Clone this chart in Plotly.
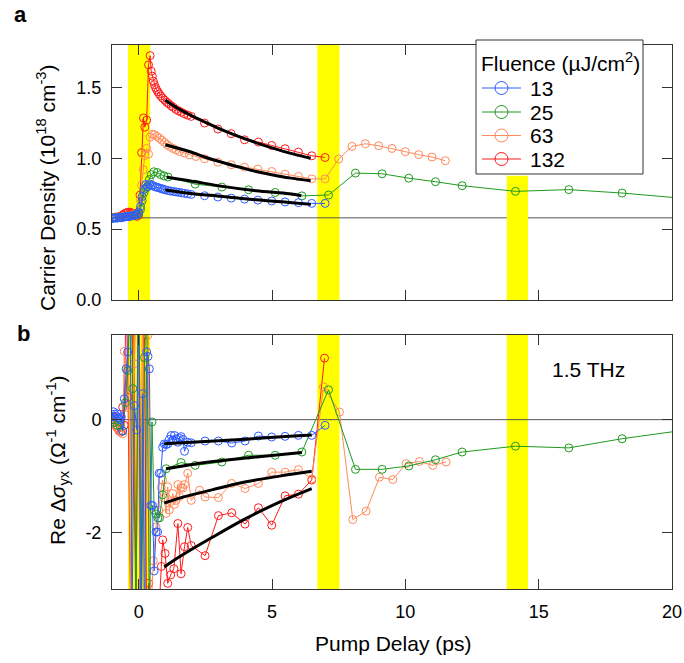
import plotly.graph_objects as go

# ---------------- data ----------------
fluences = ["13", "25", "63", "132"]

# panel a: carrier density (1e18 cm^-3) vs pump delay (ps)
t_a_13 = [-1.0, -0.93, -0.87, -0.8, -0.73, -0.67, -0.6, -0.53, -0.47, -0.4,
          -0.33, -0.27, -0.2, -0.13, -0.07, 0.0, 0.07, 0.13, 0.2, 0.27,
          0.33, 0.4, 0.47, 0.53, 0.6, 0.67, 0.73, 0.8, 0.87, 0.93,
          1.0, 1.1, 1.2, 1.3, 1.4, 1.5, 1.6, 1.72, 1.84, 1.97,
          2.47, 2.97, 3.47, 3.97, 4.47, 4.99, 5.49, 5.99, 6.49, 6.99]
n_a_13 = [0.575, 0.578, 0.58, 0.578, 0.582, 0.58, 0.584, 0.586, 0.588, 0.59,
          0.592, 0.594, 0.596, 0.60, 0.605, 0.62, 0.66, 0.73, 0.78, 0.815,
          0.80, 0.82, 0.81, 0.808, 0.80, 0.797, 0.793, 0.789, 0.785, 0.781,
          0.777, 0.773, 0.769, 0.766, 0.763, 0.760, 0.757, 0.753, 0.749, 0.745,
          0.736, 0.727, 0.719, 0.712, 0.705, 0.699, 0.692, 0.687, 0.682, 0.682]

t_a_25 = [-1.0, -0.87, -0.73, -0.6, -0.47, -0.33, -0.2, -0.07, 0.0, 0.07,
          0.13, 0.2, 0.27, 0.33, 0.4, 0.47, 0.57, 0.7, 0.82, 0.95,
          1.1, 2.12, 3.12, 4.12, 5.12, 6.12, 7.12, 8.13, 9.13, 10.13,
          11.13, 12.13, 14.13, 16.13, 18.13, 20.4]
n_a_25 = [0.58, 0.58, 0.585, 0.585, 0.59, 0.59, 0.595, 0.60, 0.61, 0.64,
          0.70, 0.76, 0.79, 0.80, 0.85, 0.885, 0.905, 0.90, 0.885, 0.876,
          0.868, 0.818, 0.797, 0.778, 0.759, 0.735, 0.741, 0.896, 0.891, 0.86,
          0.835, 0.807, 0.767, 0.779, 0.755, 0.718]

t_a_63 = [-1.0, -0.87, -0.73, -0.6, -0.47, -0.33, -0.2, -0.07, 0.0, 0.07,
          0.11, 0.17, 0.23, 0.3, 0.37, 0.43, 0.5, 0.59, 0.68, 0.78,
          0.87, 0.97, 1.06, 1.15, 1.28, 1.4, 1.53, 1.72, 1.9, 2.15,
          2.47, 2.97, 3.47, 3.97, 4.47, 4.99, 5.49, 5.99, 6.49, 6.99,
          7.5, 8.0, 8.5, 9.0, 9.5, 10.0, 10.5, 11.0, 11.5]
n_a_63 = [0.58, 0.58, 0.585, 0.585, 0.59, 0.59, 0.60, 0.60, 0.62, 0.70,
          0.81, 0.92, 1.02, 1.07, 1.03, 1.15, 1.17, 1.167, 1.155, 1.143,
          1.128, 1.113, 1.098, 1.084, 1.07, 1.06, 1.048, 1.037, 1.025, 1.013,
          0.997, 0.973, 0.955, 0.938, 0.924, 0.907, 0.888, 0.872, 0.855, 0.855,
          0.995, 1.084, 1.103, 1.089, 1.07, 1.047, 1.026, 1.009, 0.983]

t_a_132 = [-1.0, -0.87, -0.73, -0.6, -0.53, -0.47, -0.4, -0.33, -0.27, -0.2,
           -0.13, -0.07, 0.0, 0.05, 0.11, 0.18, 0.23, 0.3, 0.37, 0.43,
           0.47, 0.51, 0.55, 0.59, 0.63, 0.67, 0.72, 0.77, 0.83, 0.9,
           0.98, 1.06, 1.13, 1.22, 1.3, 1.4, 1.5, 1.6, 1.71, 1.84,
           1.97, 2.47, 2.97, 3.47, 3.97, 4.49, 4.99, 5.49, 5.99, 6.49,
           6.99]
n_a_132 = [0.58, 0.585, 0.59, 0.60, 0.61, 0.615, 0.62, 0.62, 0.615, 0.61,
           0.60, 0.59, 0.60, 0.74, 1.04, 1.285, 1.22, 1.27, 1.66, 1.725,
           1.615, 1.58, 1.545, 1.52, 1.50, 1.485, 1.47, 1.455, 1.44, 1.425,
           1.41, 1.395, 1.385, 1.37, 1.36, 1.345, 1.335, 1.325, 1.315, 1.305,
           1.296, 1.249, 1.207, 1.174, 1.131, 1.115, 1.091, 1.068, 1.044, 1.018,
           1.006]

# decay fits, panel a
fit_a_13_t = [1.0, 1.9, 3.15, 4.4, 5.65, 6.46]
fit_a_13_n = [0.777, 0.754, 0.731, 0.707, 0.688, 0.675]
fit_a_25_t = [1.05, 1.9, 3.15, 4.4, 5.65, 6.1]
fit_a_25_n = [0.866, 0.842, 0.802, 0.771, 0.750, 0.736]
fit_a_63_t = [1.0, 1.9, 2.5, 3.15, 3.8, 4.4, 5.0, 5.65, 6.45]
fit_a_63_n = [1.096, 1.048, 1.008, 0.971, 0.937, 0.907, 0.884, 0.862, 0.842]
fit_a_132_t = [1.0, 1.5, 2.0, 2.5, 3.0, 3.5, 4.0, 4.5, 5.0, 5.5, 6.0, 6.45]
fit_a_132_n = [1.41, 1.35, 1.30, 1.255, 1.212, 1.173, 1.137, 1.104, 1.074, 1.046, 1.021, 1.0]

# panel b: Re delta sigma_yx (Ohm^-1 cm^-1) at 1.5 THz
t_b_13 = [-1.0, -0.95, -0.9, -0.85, -0.8, -0.75, -0.7, -0.65, -0.6, -0.54,
          -0.47, -0.41, -0.33, -0.25, -0.16, -0.07, 0.0, 0.07, 0.15, 0.22,
          0.3, 0.35, 0.4, 0.46, 0.52, 0.58, 0.65, 0.71, 0.77, 0.83,
          0.9, 0.96, 1.03, 1.09, 1.15, 1.22, 1.28, 1.34, 1.4, 1.47,
          1.53, 1.59, 1.66, 1.72, 1.84, 1.97, 2.49, 2.99, 3.49, 3.99,
          4.49, 4.99, 5.49, 5.99, 6.49, 6.99]
s_b_13 = [0.05, 0.14, 0.1, 0.06, 0.1, 0.03, 0.0, 0.05, -0.2, 0.37,
          0.9, 1.2, 3.0, -3.5, 0.25, -0.18, 2.5, -4.0, 0.46, -4.0,
          1.2, 1.12, 0.9, -1.52, -1.52, -2.68, -1.99, -1.99, -0.95, -0.95,
          -0.49, -0.43, -0.44, -0.43, -0.35, -0.28, -0.36, -0.28, -0.34, -0.40,
          -0.33, -0.30, -0.35, -0.56, -0.40, -0.41, -0.378, -0.378, -0.414, -0.378,
          -0.29, -0.307, -0.296, -0.278, -0.278, -0.101]

t_b_25 = [-1.0, -0.9, -0.8, -0.7, -0.6, -0.5, -0.41, -0.3, -0.22, -0.1,
          0.0, 0.1, 0.22, 0.3, 0.4, 0.5, 0.58, 0.65, 0.72, 0.78,
          0.9, 1.03, 1.59, 2.12, 3.12, 4.12, 5.12, 6.12, 7.12, 8.13,
          9.13, 10.13, 11.13, 12.13, 14.13, 16.13, 18.13, 20.4]
s_b_25 = [0.0, -0.05, -0.1, -0.1, -0.2, 0.3, 0.87, 2.5, 0.55, -3.5,
          3.0, -3.5, 1.1, 2.0, -3.5, -0.04, -1.6, -1.67, -1.74, -1.74,
          -1.33, -0.87, -0.76, -0.81, -0.75, -0.63, -0.63, -0.573, 0.53, -0.88,
          -0.88, -0.82, -0.71, -0.573, -0.47, -0.50, -0.337, -0.19]

t_b_63 = [-1.0, -0.93, -0.87, -0.8, -0.73, -0.67, -0.6, -0.54, -0.47, -0.4,
          -0.3, -0.16, -0.05, 0.05, 0.15, 0.25, 0.35, 0.45, 0.55, 0.65,
          0.75, 0.85, 0.9, 0.96, 1.03, 1.09, 1.15, 1.22, 1.28, 1.34,
          1.4, 1.47, 1.53, 1.59, 1.66, 1.72, 1.84, 1.97, 2.28, 2.49,
          2.99, 3.49, 3.99, 4.49, 4.99, 5.49, 5.99, 6.49, 6.93, 7.53,
          8.03, 8.53, 9.03, 9.53, 10.03, 10.53, 11.03, 11.53]
s_b_63 = [0.05, -0.05, -0.1, -0.15, -0.2, -0.1, -0.25, 1.21, 0.22, 2.5,
          -3.5, 0.99, 3.0, -3.5, 2.5, -3.5, 1.5, -3.5, -2.5, -1.9,
          -1.6, -1.2, -1.07, -1.39, -1.66, -1.19, -1.6, -1.45, -1.31, -1.5,
          -1.43, -1.15, -1.36, -1.2, -1.21, -1.15, -0.95, -1.43, -1.25, -1.37,
          -1.38, -1.13, -1.22, -1.13, -0.93, -0.93, -0.885, -1.05, 0.58, 0.135,
          -1.77, -1.62, -1.02, -1.06, -0.78, -0.74, -0.81, -0.75]

t_b_132 = [-1.0, -0.93, -0.87, -0.8, -0.73, -0.67, -0.6, -0.54, -0.47, -0.4,
           -0.3, -0.2, -0.1, 0.0, 0.1, 0.2, 0.3, 0.38, 0.45, 0.55,
           0.65, 0.75, 0.85, 0.9, 0.99, 1.09, 1.2, 1.32, 1.47, 1.59,
           1.72, 1.84, 1.97, 2.49, 2.99, 3.49, 3.99, 4.49, 4.99, 5.49,
           5.99, 6.49, 6.97]
s_b_132 = [0.0, 0.05, -0.1, -0.15, -0.2, -0.22, 0.22, -0.1, 2.5, 0.4,
           -3.5, 3.0, -3.5, 3.0, -3.5, 2.5, -3.5, -2.9, -3.5, -3.5,
           -3.2, -3.5, -2.6, -2.13, -2.37, -2.9, -2.75, -2.64, -1.84, -2.73,
           -2.25, -1.91, -2.23, -2.41, -1.70, -1.65, -1.85, -1.56, -1.87, -1.35,
           -1.32, -1.07, 1.09]

# fits, panel b
fit_b_13_t = [0.96, 2.5, 4.0, 5.5, 6.49]
fit_b_13_s = [-0.425, -0.385, -0.345, -0.30, -0.27]
fit_b_25_t = [1.03, 2.5, 4.0, 6.12]
fit_b_25_s = [-0.87, -0.76, -0.68, -0.58]
fit_b_63_t = [0.96, 1.53, 2.78, 4.03, 5.28, 6.49]
fit_b_63_s = [-1.48, -1.39, -1.24, -1.10, -1.00, -0.915]
fit_b_132_t = [0.96, 1.53, 2.78, 4.03, 5.28, 6.49]
fit_b_132_s = [-2.61, -2.43, -2.08, -1.75, -1.46, -1.22]

# pump pulse windows (ps) and the top of the third window in panel a
pump_windows = [(-0.4, 0.43), (6.7, 7.53), (13.8, 14.6)]
third_window_top_a = 0.877
equilibrium_density = 0.58

# ---------------- styling ----------------
colors = {"13": "#2f5cff", "25": "#1f9a1f", "63": "#ff8a5c", "132": "#ff1a1a"}
FONT = "Liberation Sans, Arial, sans-serif"
AX = "#333333"
W, H = 684, 663
ML, MR, MT, MB = 112, 12, 45, 74
PW, PH = W - ML - MR, H - MT - MB


def px(xp):
    """pixel column -> paper x"""
    return (xp - ML) / PW


def py(yp):
    """pixel row -> paper y"""
    return (H - MB - yp) / PH


series_a = {
    "13": (t_a_13, n_a_13), "25": (t_a_25, n_a_25),
    "63": (t_a_63, n_a_63), "132": (t_a_132, n_a_132),
}
series_b = {
    "13": (t_b_13, s_b_13), "25": (t_b_25, s_b_25),
    "63": (t_b_63, s_b_63), "132": (t_b_132, s_b_132),
}
fits_a = [(fit_a_13_t, fit_a_13_n), (fit_a_25_t, fit_a_25_n),
          (fit_a_63_t, fit_a_63_n), (fit_a_132_t, fit_a_132_n)]
fits_b = [(fit_b_13_t, fit_b_13_s), (fit_b_25_t, fit_b_25_s),
          (fit_b_63_t, fit_b_63_s), (fit_b_132_t, fit_b_132_s)]

fig = go.Figure()

draw_order = ["132", "63", "25", "13"]
for f in draw_order:
    t, n = series_a[f]
    fig.add_trace(go.Scatter(
        x=t, y=n, xaxis="x", yaxis="y", mode="lines+markers", name=f,
        line=dict(color=colors[f], width=1),
        marker=dict(symbol="circle-open", size=8, color=colors[f], line=dict(width=1)),
    ))
for f in draw_order:
    t, s = series_b[f]
    fig.add_trace(go.Scatter(
        x=t, y=s, xaxis="x2", yaxis="y2", mode="lines+markers", name=f,
        line=dict(color=colors[f], width=1),
        marker=dict(symbol="circle-open", size=8, color=colors[f], line=dict(width=1)),
    ))
for t, v in fits_a:
    fig.add_trace(go.Scatter(x=t, y=v, xaxis="x", yaxis="y", mode="lines",
                             line=dict(color="black", width=3, shape="spline"),
                             hoverinfo="skip"))
for t, v in fits_b:
    fig.add_trace(go.Scatter(x=t, y=v, xaxis="x2", yaxis="y2", mode="lines",
                             line=dict(color="black", width=3, shape="spline"),
                             hoverinfo="skip"))

shapes = []
for i, (x0, x1) in enumerate(pump_windows):
    if i == 2:
        shapes.append(dict(type="rect", xref="x", yref="y", x0=x0, x1=x1, y0=0,
                           y1=third_window_top_a, fillcolor="#ffff00",
                           line=dict(width=0), layer="below"))
    else:
        shapes.append(dict(type="rect", xref="x", yref="y domain", x0=x0, x1=x1,
                           y0=0, y1=1, fillcolor="#ffff00", line=dict(width=0),
                           layer="below"))
    shapes.append(dict(type="rect", xref="x2", yref="y2 domain", x0=x0, x1=x1,
                       y0=0, y1=1, fillcolor="#ffff00", line=dict(width=0),
                       layer="below"))
shapes.append(dict(type="line", xref="x domain", yref="y", x0=0, x1=1,
                   y0=equilibrium_density, y1=equilibrium_density,
                   line=dict(color="#555555", width=1), layer="below"))
shapes.append(dict(type="line", xref="x2 domain", yref="y2", x0=0, x1=1,
                   y0=0, y1=0, line=dict(color="#555555", width=1), layer="below"))

# legend box drawn by hand
LEG_L, LEG_R, LEG_T, LEG_B = 476, 643, 40, 174
shapes.append(dict(type="rect", xref="paper", yref="paper",
                   x0=px(LEG_L), x1=px(LEG_R), y0=py(LEG_B), y1=py(LEG_T),
                   fillcolor="white", line=dict(color=AX, width=1), layer="above"))
leg_rows = [88, 112, 135.5, 159]
R = 6.5
for f, yr in zip(fluences, leg_rows):
    shapes.append(dict(type="line", xref="paper", yref="paper",
                       x0=px(482), x1=px(521), y0=py(yr), y1=py(yr),
                       line=dict(color=colors[f], width=1), layer="above"))
    shapes.append(dict(type="circle", xref="paper", yref="paper",
                       x0=px(501.5 - R), x1=px(501.5 + R),
                       y0=py(yr + R), y1=py(yr - R),
                       line=dict(color=colors[f], width=1), layer="above"))

tickfont = dict(family=FONT, size=18, color="black")
common_x = dict(range=[-1, 20], tickvals=[0, 5, 10, 15, 20], ticks="inside",
                ticklen=10, tickcolor=AX, showline=True, linecolor=AX, linewidth=1,
                mirror="ticks", showgrid=False, zeroline=False, tickfont=tickfont,
                automargin=False)
common_y = dict(ticks="inside", ticklen=10, tickcolor=AX, showline=True,
                linecolor=AX, linewidth=1, mirror="ticks", showgrid=False,
                zeroline=False, tickfont=tickfont, ticklabelstandoff=6,
                automargin=False)

txt = dict(family=FONT, color="black")
annotations = [
    dict(text="<b>a</b>", x=px(20), y=py(15), font=dict(txt, size=22)),
    dict(text="<b>b</b>", x=px(23), y=py(333), font=dict(txt, size=22)),
    dict(text="Carrier Density (10<sup>18</sup> cm<sup>-3</sup>)", textangle=-90,
         x=px(46), y=py(188), font=dict(txt, size=21)),
    dict(text="Re Δ<i>σ</i><sub>yx</sub> (Ω<sup>-1</sup> cm<sup>-1</sup>)",
         textangle=-90, x=px(57), y=py(460), font=dict(txt, size=21)),
    dict(text="Pump Delay (ps)", x=px(393), y=py(643), font=dict(txt, size=21)),
    dict(text="1.5 THz", x=px(588), y=py(369), font=dict(txt, size=21)),
    dict(text="Fluence (µJ/cm<sup>2</sup>)", x=px(560), y=py(62),
         font=dict(txt, size=21)),
]
for f, yr in zip(fluences, leg_rows):
    annotations.append(dict(text=f, x=px(528), y=py(yr), xanchor="left",
                            font=dict(txt, size=21)))
for a in annotations:
    a.setdefault("xanchor", "center")
    a.setdefault("yanchor", "middle")
    a.update(xref="paper", yref="paper", showarrow=False)

fig.update_layout(
    width=W, height=H, autosize=False,
    margin=dict(l=ML, r=MR, t=MT, b=MB),
    paper_bgcolor="white", plot_bgcolor="white",
    font=dict(family=FONT, color="black"),
    xaxis=dict(common_x, domain=[0, 1], anchor="y", showticklabels=False),
    yaxis=dict(common_y, domain=[py(300), 1], range=[0, 1.8],
               tickvals=[0, 0.5, 1.0, 1.5], ticktext=["0.0", "0.5", "1.0", "1.5"]),
    xaxis2=dict(common_x, domain=[0, 1], anchor="y2", ticklabelstandoff=6),
    yaxis2=dict(common_y, domain=[0, py(335)], range=[-3, 1.5],
                tickvals=[-2, 0], ticktext=["-2", "0"]),
    shapes=shapes,
    annotations=annotations,
    showlegend=False,
)

fig.write_html("out.html")
